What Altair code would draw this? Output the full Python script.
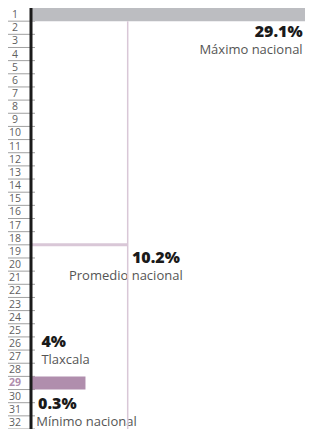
import altair as alt
import pandas as pd

# ---- data ----
ranks = list(range(1, 33))
bar_ranks = [1, 29]
bar_values = [29.1, 5.7]
bar_colors = ["#bcbdc1", "#b08ead"]
avg_value = 10.2
max_value = 29.1
highlight_rank = 29

ann_text = ["29.1%", "Máximo nacional", "10.2%", "Promedio nacional",
            "4%", "Tlaxcala", "0.3%", "Mínimo nacional"]
ann_bold = [True, False, True, False, True, False, True, False]

# ---- layout (annotation placement, not data) ----
ann_x = [28.85, 28.85, 10.65, 10.0, 1.0, 1.0, 0.65, 0.45]
ann_y = [2.3, 3.7, 19.5, 20.9, 25.85, 27.25, 30.6, 32.0]
ann_align = ["right", "right", "left", "center", "left", "left", "left", "left"]

W, H = 273, 421
PAD_L, PAD_R = 24, 1
xs = alt.Scale(domain=[0, max_value], nice=False, zero=True)
ys = alt.Scale(domain=[0.5, 32.5], reverse=True, nice=False, zero=False)

rank_df = pd.DataFrame({"rank": ranks})
rank_df["under"] = rank_df["rank"] + 0.5
bars_df = pd.DataFrame({"rank": bar_ranks, "value": bar_values, "color": bar_colors})
bars_df["y0"] = bars_df["rank"] - 0.5
bars_df["y1"] = bars_df["rank"] + 0.5
bars_df["zero"] = 0.0
avg_df = pd.DataFrame({"value": [avg_value], "zero": [0.0], "yh": [18.5], "ytop": [1.5], "ybot": [32.5]})
axis_df = pd.DataFrame({"y0": [0.5], "y1": [32.5]})

under = alt.Chart(rank_df).mark_rule(color="#a0a0a0", strokeWidth=1).encode(
    y=alt.Y("under:Q", scale=ys, axis=None),
    x=alt.value(-24), x2=alt.value(3),
)

rank_norm = alt.Chart(rank_df).transform_filter(f"datum.rank != {highlight_rank}").mark_text(
    align="center", baseline="middle", fontSize=10.5, font="Open Sans", dy=0.5, color="#5f5f5f"
).encode(
    y=alt.Y("rank:Q", scale=ys, axis=None),
    x=alt.value(-17),
    text="rank:N",
)
rank_hi = alt.Chart(rank_df).transform_filter(f"datum.rank == {highlight_rank}").mark_text(
    align="center", baseline="middle", fontSize=10.5, font="Open Sans", dy=0.5,
    color="#b08ead", fontWeight="bold"
).encode(
    y=alt.Y("rank:Q", scale=ys, axis=None),
    x=alt.value(-17),
    text="rank:N",
)

bars = alt.Chart(bars_df).mark_rect().encode(
    y=alt.Y("y0:Q", scale=ys, axis=None), y2="y1:Q",
    x=alt.X("zero:Q", scale=xs, axis=None), x2="value:Q",
    color=alt.Color("color:N", scale=None),
)

avg_h = alt.Chart(avg_df).mark_rule(color="#d9c7d7", strokeWidth=3).encode(
    y=alt.Y("yh:Q", scale=ys, axis=None),
    x=alt.X("zero:Q", scale=xs, axis=None), x2="value:Q",
)

avg_v = alt.Chart(avg_df).mark_rule(color="#d9c7d7", strokeWidth=1.5).encode(
    x=alt.X("value:Q", scale=xs, axis=None),
    y=alt.Y("ytop:Q", scale=ys, axis=None), y2="ybot:Q",
)

axis_line = alt.Chart(axis_df).mark_rule(color="#1a1a1a", strokeWidth=3).encode(
    x=alt.value(-1),
    y=alt.Y("y0:Q", scale=ys, axis=None), y2="y1:Q",
)

layers = []
for t, b, x, y, a in zip(ann_text, ann_bold, ann_x, ann_y, ann_align):
    d = pd.DataFrame({"text": [t], "x": [x], "y": [y]})
    layers.append(
        alt.Chart(d).mark_text(
            align=a, baseline="middle",
            fontSize=16 if b else 13,
            fontWeight=800 if b else "normal",
            font="Open Sans",
            color="#1a1a1a" if b else "#555555",
        ).encode(
            x=alt.X("x:Q", scale=xs, axis=None),
            y=alt.Y("y:Q", scale=ys, axis=None),
            text="text:N",
        )
    )

chart = alt.layer(under, rank_norm, rank_hi, bars, avg_h, *layers, avg_v, axis_line).properties(
    width=W, height=H,
    padding={"left": PAD_L, "top": 0, "right": PAD_R, "bottom": 0},
    autosize=alt.AutoSizeParams(type="none"),
).configure_view(stroke=None)

chart.save("out.html", embed_options={"renderer": "svg", "actions": False})
